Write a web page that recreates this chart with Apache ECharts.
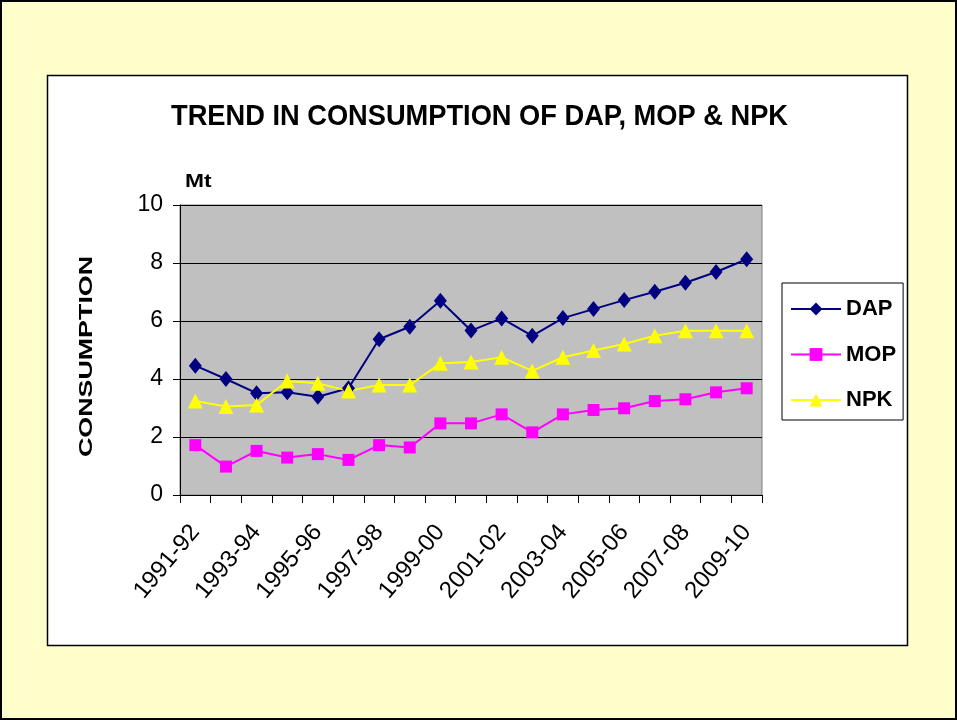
<!DOCTYPE html>
<html><head><meta charset="utf-8">
<script src="https://cdn.jsdelivr.net/npm/echarts@6/dist/echarts.min.js"></script>
<style>html,body{margin:0;padding:0;background:#fff}#c{width:957px;height:720px}</style>
</head><body><div id="c"></div>
<script>
var categories = ['1991-92','1992-93','1993-94','1994-95','1995-96','1996-97','1997-98','1998-99','1999-00','2000-01','2001-02','2002-03','2003-04','2004-05','2005-06','2006-07','2007-08','2008-09','2009-10'];
var dap = [4.46,4.00,3.51,3.54,3.39,3.68,5.37,5.80,6.70,5.67,6.09,5.49,6.10,6.41,6.72,7.01,7.32,7.69,8.13];
var mop = [1.72,0.98,1.52,1.29,1.41,1.21,1.72,1.64,2.47,2.47,2.78,2.16,2.78,2.93,2.99,3.24,3.30,3.54,3.68];
var npk = [3.24,3.05,3.10,3.93,3.85,3.59,3.79,3.79,4.54,4.59,4.75,4.28,4.75,4.98,5.21,5.49,5.66,5.66,5.66];
var yTicks = [0,2,4,6,8,10];

var chart = echarts.init(document.getElementById('c'), null, {renderer:'canvas'});
var font = 'Arial, "Liberation Sans", sans-serif';
chart.setOption({
  backgroundColor: '#FFFFCC',
  animation: false,
  textStyle: {fontFamily: font},
  graphic: [
    {type:'rect', z:-10, shape:{x:1,y:1,width:955,height:718}, style:{fill:'#FFFFCC', stroke:'#000', lineWidth:2}},
    {type:'rect', z:-9, shape:{x:47.5,y:75.5,width:860,height:570}, style:{fill:'#fff', stroke:'#000', lineWidth:1.5}},
    {type:'text', x:479.5, y:117, scaleX:0.908, style:{text:'TREND IN CONSUMPTION OF DAP, MOP & NPK', font:'bold 30px ' + font, fill:'#000', align:'center', verticalAlign:'middle'}},
    {type:'text', x:185, y:182, scaleX:1.2, style:{text:'Mt', font:'bold 19px ' + font, fill:'#000', align:'left', verticalAlign:'middle'}},
    {type:'text', x:87, y:356.5, rotation:Math.PI/2, scaleX:1.49, style:{text:'CONSUMPTION', font:'bold 18px ' + font, fill:'#000', align:'center', verticalAlign:'middle'}}
  ],
  legend: {
    orient: 'vertical', left: 782, top: 283,
    backgroundColor: '#fff', borderColor: '#000', borderWidth: 1,
    padding: [15, 7, 9, 8], itemWidth: 50, itemHeight: 16, itemGap: 23.5,
    textStyle: {fontSize: 22, fontWeight: 'bold', color: '#000', fontFamily: font},
    data: ['DAP','MOP','NPK']
  },
  grid: {left: 180, top: 205, right: 195, bottom: 225, show: true, backgroundColor: '#C0C0C0', borderColor: '#808080', borderWidth: 1},
  xAxis: {
    type: 'category', data: categories, boundaryGap: true,
    axisLine: {lineStyle: {color: '#000', width: 1}},
    axisTick: {show: true, interval: 0, length: 8, lineStyle: {color: '#000'}},
    axisLabel: {interval: 1, rotate: 50, fontSize: 24, color: '#000', margin: 33, fontFamily: font},
    splitLine: {show: false}
  },
  yAxis: {
    type: 'value', min: 0, max: 10, interval: 2,
    axisLine: {show: true, lineStyle: {color: '#000'}},
    axisTick: {show: true, length: 7, lineStyle: {color: '#000'}},
    axisLabel: {fontSize: 23, color: '#000', margin: 17, fontFamily: font,
      formatter: function(v){ return yTicks.indexOf(v) >= 0 ? String(v) : ''; }},
    splitLine: {show: true, lineStyle: {color: '#000', width: 1}}
  },
  series: [
    {name:'DAP', type:'line', data:dap, symbol:'diamond', symbolSize:[13,16], color:'#000080', lineStyle:{width:2, color:'#000080'}, itemStyle:{color:'#000080'}},
    {name:'MOP', type:'line', data:mop, symbol:'rect', symbolSize:12, color:'#FF00FF', lineStyle:{width:2, color:'#FF00FF'}, itemStyle:{color:'#FF00FF'}},
    {name:'NPK', type:'line', data:npk, symbol:'triangle', symbolSize:[15,15], color:'#FFFF00', lineStyle:{width:2, color:'#FFFF00'}, itemStyle:{color:'#FFFF00'}}
  ]
});
</script></body></html>
